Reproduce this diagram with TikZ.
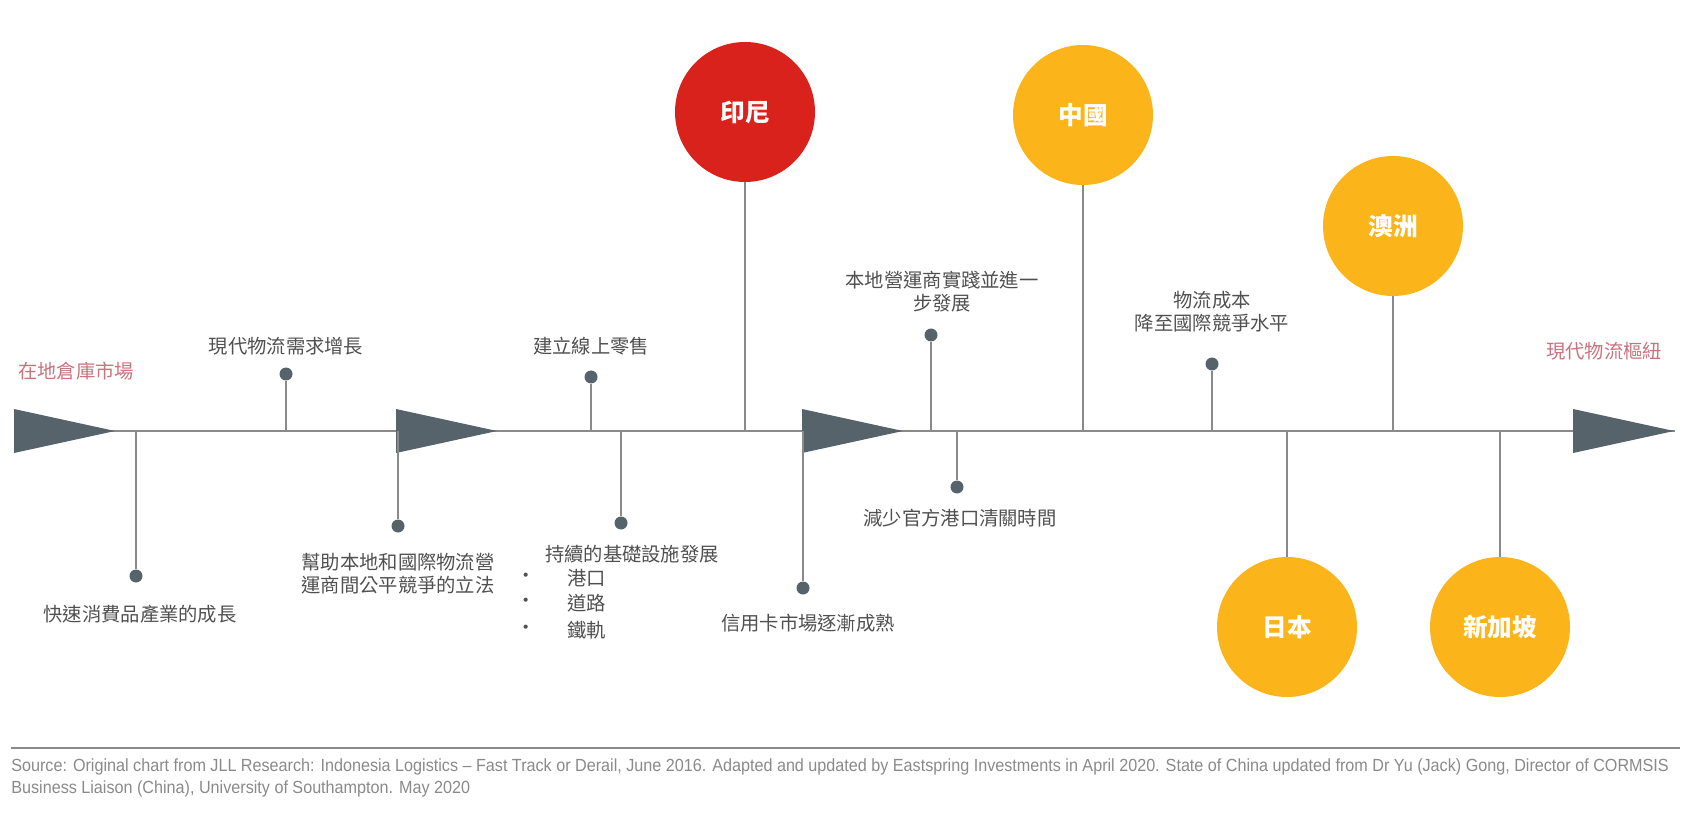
\documentclass[tikz,border=0pt]{standalone}
\usepackage{fontspec}
\setmainfont{Liberation Sans}
\newfontfamily\cjk{Noto Sans CJK TC}
\begin{document}
\definecolor{lne}{HTML}{8A8A8A}
\definecolor{tri}{HTML}{56636B}
\definecolor{redc}{HTML}{D9221C}
\definecolor{yel}{HTML}{FBB41A}
\definecolor{txt}{HTML}{505050}
\definecolor{pink}{HTML}{C9737D}
\begin{tikzpicture}[x=0.02cm,y=-0.02cm,
  stem/.style={draw=lne,line width=1.6pt},
  dot/.style={circle,fill=tri,inner sep=0pt,minimum size=13*0.02cm},
  lbl/.style={font=\cjk\fontsize{11}{13}\selectfont,text=txt,align=center,inner sep=0pt},
  ctry/.style={circle,minimum size=140*0.02cm,inner sep=0pt,text=white,font=\cjk\bfseries\fontsize{14}{16}\selectfont},
  tribox/.style={fill=tri}]
\useasboundingbox (0,0) rectangle (1707,817);
% main line
\coordinate (L) at (14,431);
\coordinate (R) at (1675,431);
\draw[stem] (L) -- (R);
\foreach \x in {14,396,802,1573}{
  \fill[tri] (\x,409) -- (\x+101,431) -- (\x,453) -- cycle;}
\node[lbl,text=pink] (start) at (76,371) {在地倉庫市場};
\node[lbl,text=pink] (end) at (1604,351) {現代物流樞紐};
% stems with dots
\foreach \n/\x/\y in {a/136/576,b/286/374,c/398/526,d/591/377,e/621/523,g/803/588,h/931/335,i/957/487,k/1212/364}{
  \coordinate (\n0) at (\x,431);
  \node[dot] (\n) at (\x,\y) {};
  \draw[stem] (\n0) -- (\n);
}
\node[lbl] (ta) at (140,614) {快速消費品產業的成長};
\node[lbl] (tb) at (286,346) {現代物流需求增長};
\node[lbl] (tc) at (398,574) {幫助本地和國際物流營\\運商間公平競爭的立法};
\node[lbl] (td) at (591,346) {建立線上零售};
\node[lbl] (te) at (632,554) {持續的基礎設施發展};
\node[lbl,anchor=west] (te1) at (567,578) {港口};
\node[lbl,anchor=west] (te2) at (567,603) {道路};
\node[lbl,anchor=west] (te3) at (567,630) {鐵軌};
\foreach \n in {te1,te2,te3}{\node[lbl] at ([xshift=-41*0.02cm]\n.west) {•};}
\node[lbl] (tg) at (808,623) {信用卡市場逐漸成熟};
\node[lbl] (th) at (942,292) {本地營運商實踐並進一\\步發展};
\node[lbl] (ti) at (960,518) {減少官方港口清關時間};
\node[lbl] (tk) at (1212,312) {物流成本\\降至國際競爭水平};
% countries
\node[ctry,fill=redc] (id) at (745,112) {印尼};
\node[ctry,fill=yel] (cn) at (1083,115) {中國};
\node[ctry,fill=yel] (au) at (1393,226) {澳洲};
\node[ctry,fill=yel] (jp) at (1287,627) {日本};
\node[ctry,fill=yel] (sg) at (1500,627) {新加坡};
\foreach \n/\x in {id/745,cn/1083,au/1393,jp/1287,sg/1500}{
  \coordinate (\n0) at (\x,431);
  \draw[stem] (\n0) -- (\n);}
% source
\coordinate (s1) at (11,748); \coordinate (s2) at (1680,748);
\draw[lne,line width=1.2pt] (s1) -- (s2);
\node[anchor=north west,inner sep=0pt,text=lne,align=left,font=\fontsize{10}{13}\selectfont] (src) at (11,758) {\scalebox{0.92}[1]{Source: Original chart from JLL Research: Indonesia Logistics – Fast Track or Derail, June 2016. Adapted and updated by Eastspring Investments in April 2020. State of China updated from Dr Yu (Jack) Gong, Director of CORMSIS}\\\scalebox{0.92}[1]{Business Liaison (China), University of Southampton. May 2020}};
\end{tikzpicture}
\end{document}
